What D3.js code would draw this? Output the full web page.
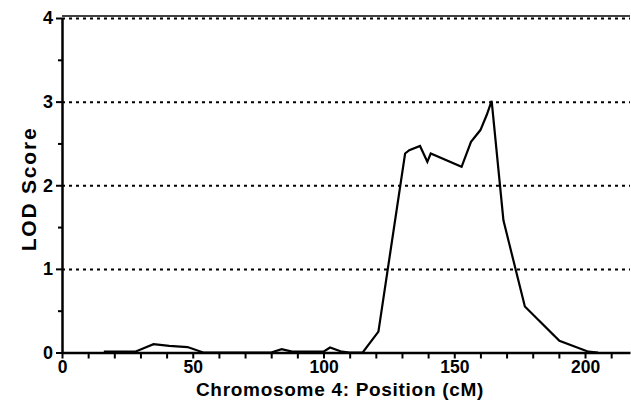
<!DOCTYPE html>
<html><head><meta charset="utf-8">
<script src="https://cdn.jsdelivr.net/npm/d3@7"></script>
<style>
body{margin:0;background:#fff;}
text{font-family:"Liberation Sans",Arial,sans-serif;font-weight:bold;fill:#000;}
</style></head>
<body><svg id="c" width="631" height="402"></svg>
<script>
const positions = [16, 28, 35, 41, 48, 54, 80, 84, 88, 92, 100, 102.5, 107, 110, 115, 121, 131.2, 132.8, 136.9, 139.7, 141, 152.8, 156.4, 160, 162.4, 164.3, 168.8, 177, 190.2, 201.3, 205];
const lodScores = [0.01, 0.01, 0.1, 0.08, 0.065, 0, 0, 0.04, 0.01, 0.01, 0.01, 0.06, 0.01, 0, 0, 0.25, 2.38, 2.42, 2.47, 2.28, 2.38, 2.22, 2.52, 2.66, 2.84, 3.01, 1.58, 0.55, 0.14, 0.01, 0];
const xTickLabels = [0, 50, 100, 150, 200];
const yTickLabels = [0, 1, 2, 3, 4];
const gridValues = [1, 2, 3, 4];
const xTitle = "Chromosome 4: Position (cM)";
const yTitle = "LOD Score";

const svg = d3.select("#c");
const x = d3.scaleLinear().domain([0, 217.2]).range([62, 630]);
const y = d3.scaleLinear().domain([0, 4]).range([352.5, 18]);

// gridlines
svg.selectAll(".grid").data(gridValues).enter().append("line")
  .attr("x1", x(0)).attr("x2", 630)
  .attr("y1", d => y(d) + 0.5).attr("y2", d => y(d) + 0.5)
  .attr("stroke", "#000").attr("stroke-width", 2).attr("stroke-dasharray", "3,4");
// top frame line
svg.append("line").attr("x1", x(0)).attr("x2", 630)
  .attr("y1", y(4) - 2).attr("y2", y(4) - 2)
  .attr("stroke", "#000").attr("stroke-width", 1.5);

// line
const line = d3.line().x((d, i) => x(positions[i])).y(d => y(d));
svg.append("path").datum(lodScores).attr("d", line)
  .attr("fill", "none").attr("stroke", "#000").attr("stroke-width", 2.2).attr("stroke-linejoin", "miter");

// x axis
const xAxis = d3.axisBottom(x).tickValues(d3.range(0, 211, 10)).tickSize(6)
  .tickFormat(d => xTickLabels.includes(d) ? d : "").tickSizeOuter(0);
const gx = svg.append("g").attr("transform", `translate(0,${y(0)})`).call(xAxis);
gx.select(".domain").attr("stroke-width", 2.5);
gx.selectAll(".tick line").attr("stroke-width", 2);
gx.selectAll(".tick text").attr("font-size", 17.5).attr("dy", 0).attr("y", 20.5)
  .style("font-family", "Liberation Sans, Arial, sans-serif").style("font-weight", "bold");

// y axis
const yAxis = d3.axisLeft(y).tickValues(d3.range(0, 4.01, 0.5)).tickSize(6)
  .tickFormat(d => Number.isInteger(d) && yTickLabels.includes(d) ? d : "").tickSizeOuter(0);
const gy = svg.append("g").attr("transform", `translate(${x(0)},0)`).call(yAxis);
gy.select(".domain").attr("stroke-width", 2.5);
gy.selectAll(".tick line").attr("stroke-width", 2).attr("x2", d => Number.isInteger(d) ? -6 : -4);
gy.selectAll(".tick text").attr("font-size", 18).attr("x", -9)
  .style("font-family", "Liberation Sans, Arial, sans-serif").style("font-weight", "bold");

// titles
svg.append("text").attr("x", 340).attr("y", 396).attr("text-anchor", "middle")
  .attr("font-size", 19).attr("letter-spacing", 0.7).text(xTitle);
svg.append("text").attr("transform", "translate(36,189) rotate(-90)")
  .attr("text-anchor", "middle").attr("font-size", 21).attr("letter-spacing", 1.8).text(yTitle);
</script></body></html>
